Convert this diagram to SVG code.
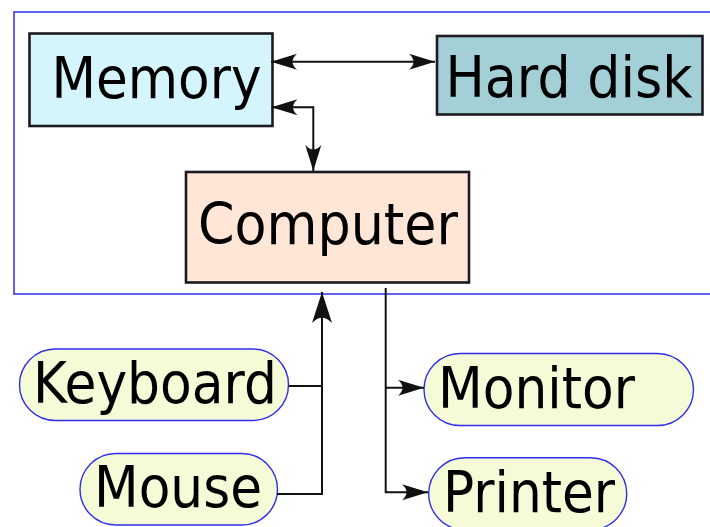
<svg xmlns="http://www.w3.org/2000/svg" width="710" height="527" viewBox="0 0 710 527">
<style>
.box{stroke:#1e1a22;stroke-width:2.6}
.pill{fill:#f5fbd6;stroke:#2f2fea;stroke-width:1.4}
.frame{fill:none;stroke:#2f2fea;stroke-width:1.5}
.lbl{font-family:"DejaVu Sans",sans-serif;font-size:57px;fill:#000}
.con{fill:none;stroke:#111;stroke-width:2}
</style>
<defs>
<marker id="ah" markerUnits="userSpaceOnUse" viewBox="-28 -9 31 18" refX="0" refY="0" markerWidth="31" markerHeight="18" orient="auto-start-reverse">
<path d="M0,0 L-26,-8 C-20,-2.5 -20,2.5 -26,8 Z" fill="#111"/>
</marker>
<marker id="ahb" markerUnits="userSpaceOnUse" viewBox="-34 -11 37 22" refX="0" refY="0" markerWidth="37" markerHeight="22" orient="auto-start-reverse">
<path d="M0,0 L-31,-10 C-24,-3 -24,3 -31,10 Z" fill="#111"/>
</marker>
</defs>
<rect class="frame" x="14" y="12" width="710" height="282"/>
<g id="memory">
<rect class="box" x="29.5" y="33.5" width="243" height="92.5" fill="#d5f5fd"/>
<text class="lbl" x="51.5" y="98" textLength="210" lengthAdjust="spacingAndGlyphs">Memory</text>
</g>
<g id="harddisk">
<rect class="box" x="437" y="36" width="265.5" height="78.5" fill="#a3d0d7"/>
<text class="lbl" x="445.5" y="96.7" textLength="247" lengthAdjust="spacingAndGlyphs">Hard disk</text>
</g>
<g id="computer">
<rect class="box" x="186" y="172" width="283" height="110.5" fill="#ffe6d6"/>
<text class="lbl" x="198" y="244" textLength="260" lengthAdjust="spacingAndGlyphs">Computer</text>
</g>
<g id="keyboard">
<rect class="pill" x="19.5" y="349" width="269" height="71.5" rx="35.75"/>
<text class="lbl" x="33" y="403.3" textLength="244" lengthAdjust="spacingAndGlyphs">Keyboard</text>
</g>
<g id="mouse">
<rect class="pill" x="80" y="453.5" width="197.5" height="71.5" rx="35.75"/>
<text class="lbl" x="94" y="506.7" textLength="168" lengthAdjust="spacingAndGlyphs">Mouse</text>
</g>
<g id="monitor">
<rect class="pill" x="424" y="353.5" width="269.5" height="72" rx="36"/>
<text class="lbl" x="438" y="407.7" textLength="197" lengthAdjust="spacingAndGlyphs">Monitor</text>
</g>
<g id="printer">
<rect class="pill" x="428.7" y="457.7" width="198" height="72" rx="36"/>
<text class="lbl" x="443" y="511.7" textLength="172" lengthAdjust="spacingAndGlyphs">Printer</text>
</g>
<g id="connectors">
<path class="con" d="M271,61.7 H435" marker-start="url(#ah)" marker-end="url(#ah)"/>
<path class="con" d="M271.5,107.3 H313.3 V171" marker-start="url(#ah)" marker-end="url(#ah)"/>
<path class="con" d="M289,386 H322 M277,494 H322 V292" marker-end="url(#ahb)"/>
<path class="con" d="M385.7,288 V492.3 H428" marker-end="url(#ah)"/>
<path class="con" d="M385.7,387.7 H424" marker-end="url(#ah)"/>
</g>
</svg>
